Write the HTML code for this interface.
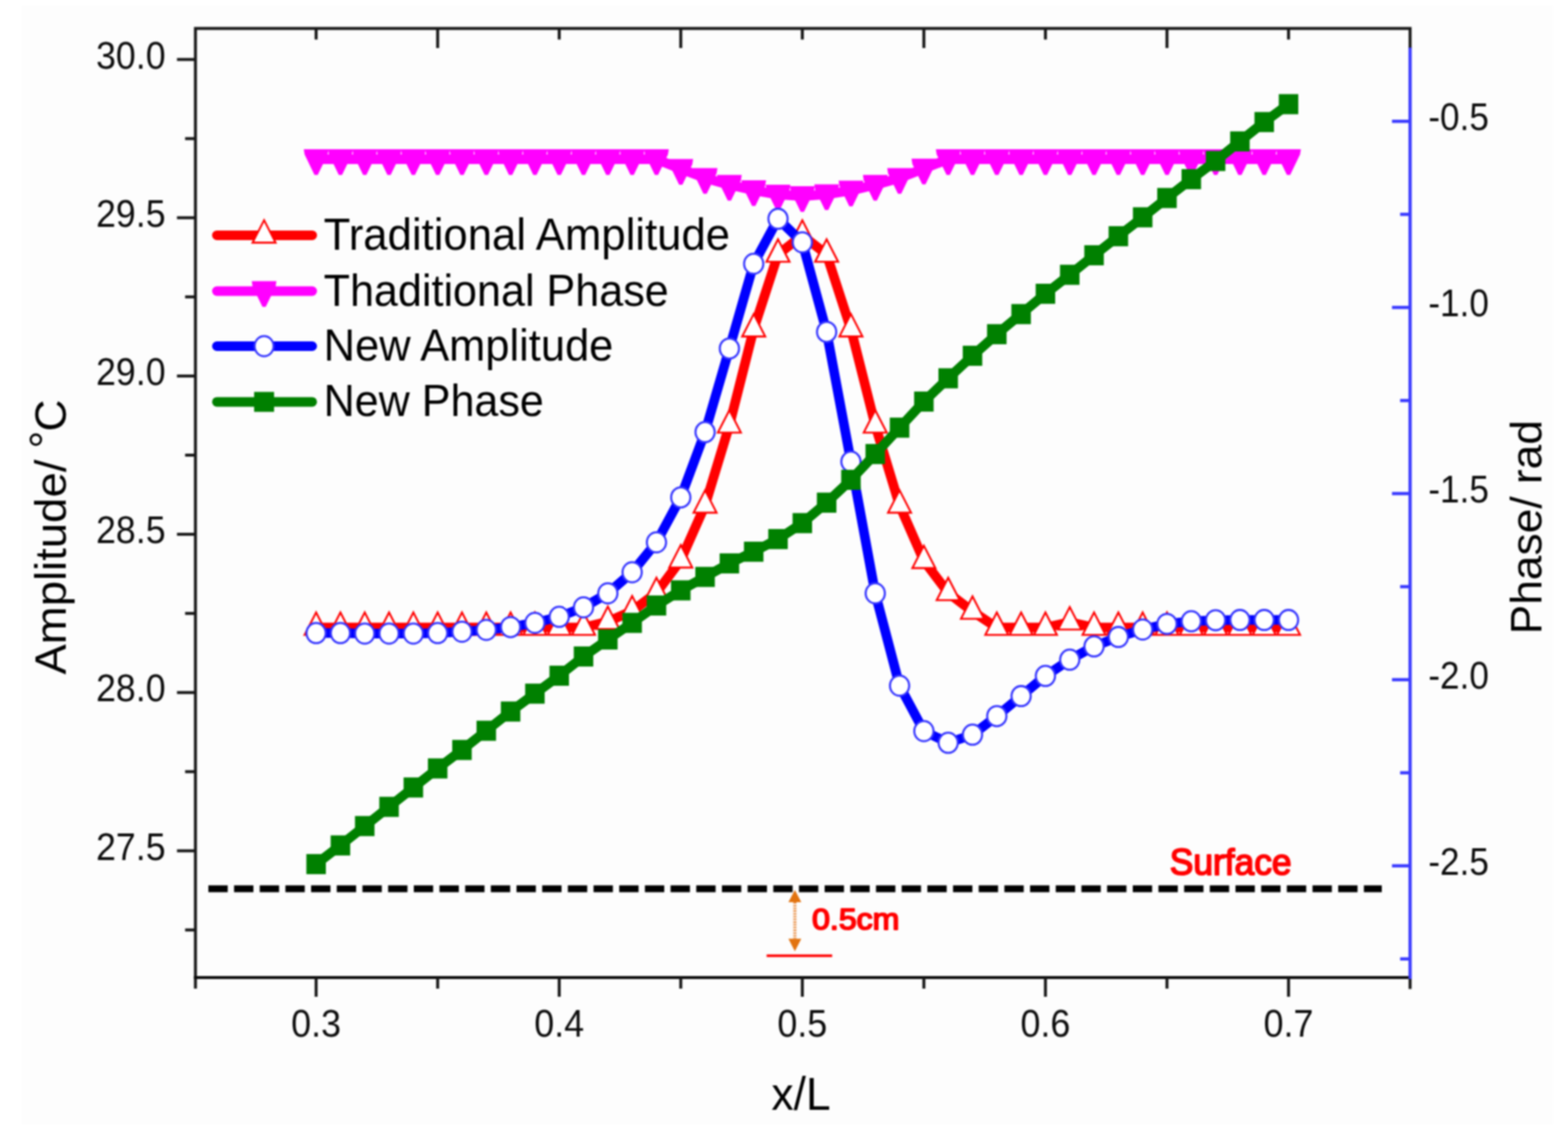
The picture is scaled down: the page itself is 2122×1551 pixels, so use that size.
<!DOCTYPE html>
<html lang="en"><head><meta charset="utf-8"><title>Amplitude and Phase vs x/L</title>
<style>
html,body{margin:0;padding:0;background:#fff;}
body{width:2122px;height:1551px;}
svg{display:block;filter:blur(0.8px);}
text{font-family:"Liberation Sans",Arial,Helvetica,sans-serif;}
.tk{font-size:51px;fill:#0c0c0c;}
.ttl{font-size:60px;fill:#000;}
.lg{font-size:61.5px;fill:#000;}
.ann{font-family:"Liberation Sans",Arial,sans-serif;font-weight:normal;fill:#ff0000;stroke:#ff0000;stroke-width:2.2px;stroke-linejoin:round;paint-order:stroke;}
</style></head><body>
<svg width="2122" height="1551" viewBox="0 0 2122 1551" role="img" aria-label="Amplitude and phase versus x/L">
<rect x="0" y="0" width="2122" height="1551" fill="#ffffff"/>
<rect x="29.5" y="7.5" width="2072.5" height="1514" fill="#fdfdfd"/>
<g id="series" fill="none" stroke-linejoin="round" stroke-linecap="butt">
<g id="trad-amp">
<polyline points="427.8,849.3 460.7,849.3 493.6,849.3 526.5,849.3 559.4,849.3 592.3,849.3 625.2,849.3 658.1,849.3 691,849.3 723.9,849.3 756.8,849.3 789.7,849.3 822.6,841.3 855.5,827 888.4,802.2 921.3,758.1 954.2,683.9 987.1,575.5 1020,445.4 1052.9,344.3 1085.8,318.5 1118.7,344.3 1151.6,445.4 1184.5,575.5 1217.4,683.9 1250.3,758.9 1283.2,802.3 1316.1,827.5 1349,849.3 1381.9,849.3 1414.8,849.3 1447.7,842 1480.6,849.3 1513.5,849.3 1546.4,849.3 1579.3,849.3 1612.2,849.3 1645.1,849.3 1678,849.3 1710.9,849.3 1743.8,849.3" stroke="#ff0000" stroke-width="13"/>
<path d="M427.8 828.9 L443.4 859.3 L412.2 859.3 Z M460.7 828.9 L476.3 859.3 L445.1 859.3 Z M493.6 828.9 L509.2 859.3 L478 859.3 Z M526.5 828.9 L542.1 859.3 L510.9 859.3 Z M559.4 828.9 L575 859.3 L543.8 859.3 Z M592.3 828.9 L607.9 859.3 L576.7 859.3 Z M625.2 828.9 L640.8 859.3 L609.6 859.3 Z M658.1 828.9 L673.7 859.3 L642.5 859.3 Z M691 828.9 L706.6 859.3 L675.4 859.3 Z M723.9 828.9 L739.5 859.3 L708.3 859.3 Z M756.8 828.9 L772.4 859.3 L741.2 859.3 Z M789.7 828.9 L805.3 859.3 L774.1 859.3 Z M822.6 820.9 L838.2 851.3 L807 851.3 Z M855.5 806.6 L871.1 837 L839.9 837 Z M888.4 781.8 L904 812.2 L872.8 812.2 Z M921.3 737.7 L936.9 768.1 L905.7 768.1 Z M954.2 663.5 L969.8 693.9 L938.6 693.9 Z M987.1 555.1 L1002.7 585.5 L971.5 585.5 Z M1020 425 L1035.6 455.4 L1004.4 455.4 Z M1052.9 323.9 L1068.5 354.3 L1037.3 354.3 Z M1085.8 298.1 L1101.4 328.5 L1070.2 328.5 Z M1118.7 323.9 L1134.3 354.3 L1103.1 354.3 Z M1151.6 425 L1167.2 455.4 L1136 455.4 Z M1184.5 555.1 L1200.1 585.5 L1168.9 585.5 Z M1217.4 663.5 L1233 693.9 L1201.8 693.9 Z M1250.3 738.5 L1265.9 768.9 L1234.7 768.9 Z M1283.2 781.9 L1298.8 812.3 L1267.6 812.3 Z M1316.1 807.1 L1331.7 837.5 L1300.5 837.5 Z M1349 828.9 L1364.6 859.3 L1333.4 859.3 Z M1381.9 828.9 L1397.5 859.3 L1366.3 859.3 Z M1414.8 828.9 L1430.4 859.3 L1399.2 859.3 Z M1447.7 821.6 L1463.3 852 L1432.1 852 Z M1480.6 828.9 L1496.2 859.3 L1465 859.3 Z M1513.5 828.9 L1529.1 859.3 L1497.9 859.3 Z M1546.4 828.9 L1562 859.3 L1530.8 859.3 Z M1579.3 828.9 L1594.9 859.3 L1563.7 859.3 Z M1612.2 828.9 L1627.8 859.3 L1596.6 859.3 Z M1645.1 828.9 L1660.7 859.3 L1629.5 859.3 Z M1678 828.9 L1693.6 859.3 L1662.4 859.3 Z M1710.9 828.9 L1726.5 859.3 L1695.3 859.3 Z M1743.8 828.9 L1759.4 859.3 L1728.2 859.3 Z" fill="#fff" stroke="#ff0000" stroke-width="2.6" stroke-linejoin="miter"/>
</g>
<g id="trad-phase">
<polyline points="427.8,215.4 460.7,215.4 493.6,215.4 526.5,215.4 559.4,215.4 592.3,215.4 625.2,215.4 658.1,215.4 691,215.4 723.9,215.4 756.8,215.4 789.7,215.4 822.6,215.4 855.5,215.4 888.4,215.4 921.3,228.7 954.2,240.9 987.1,250.2 1020,257.5 1052.9,263.3 1085.8,265.5 1118.7,263 1151.6,257.9 1184.5,250.2 1217.4,240.9 1250.3,228.2 1283.2,215.4 1316.1,215.4 1349,215.4 1381.9,215.4 1414.8,215.4 1447.7,215.4 1480.6,215.4 1513.5,215.4 1546.4,215.4 1579.3,215.4 1612.2,215.4 1645.1,215.4 1678,215.4 1710.9,215.4 1743.8,215.4" stroke="#ff00ff" stroke-width="13"/>
<path d="M411.1 202 L444.5 202 L443.4 209.1 L430 236.7 L425.6 236.7 L412.2 209.1 Z M444 202 L477.4 202 L476.3 209.1 L462.9 236.7 L458.5 236.7 L445.1 209.1 Z M476.9 202 L510.3 202 L509.2 209.1 L495.8 236.7 L491.4 236.7 L478 209.1 Z M509.8 202 L543.2 202 L542.1 209.1 L528.7 236.7 L524.3 236.7 L510.9 209.1 Z M542.7 202 L576.1 202 L575 209.1 L561.6 236.7 L557.2 236.7 L543.8 209.1 Z M575.6 202 L609 202 L607.9 209.1 L594.5 236.7 L590.1 236.7 L576.7 209.1 Z M608.5 202 L641.9 202 L640.8 209.1 L627.4 236.7 L623 236.7 L609.6 209.1 Z M641.4 202 L674.8 202 L673.7 209.1 L660.3 236.7 L655.9 236.7 L642.5 209.1 Z M674.3 202 L707.7 202 L706.6 209.1 L693.2 236.7 L688.8 236.7 L675.4 209.1 Z M707.2 202 L740.6 202 L739.5 209.1 L726.1 236.7 L721.7 236.7 L708.3 209.1 Z M740.1 202 L773.5 202 L772.4 209.1 L759 236.7 L754.6 236.7 L741.2 209.1 Z M773 202 L806.4 202 L805.3 209.1 L791.9 236.7 L787.5 236.7 L774.1 209.1 Z M805.9 202 L839.3 202 L838.2 209.1 L824.8 236.7 L820.4 236.7 L807 209.1 Z M838.8 202 L872.2 202 L871.1 209.1 L857.7 236.7 L853.3 236.7 L839.9 209.1 Z M871.7 202 L905.1 202 L904 209.1 L890.6 236.7 L886.2 236.7 L872.8 209.1 Z M904.6 215.3 L938 215.3 L936.9 222.4 L923.5 250 L919.1 250 L905.7 222.4 Z M937.5 227.5 L970.9 227.5 L969.8 234.6 L956.4 262.2 L952 262.2 L938.6 234.6 Z M970.4 236.8 L1003.8 236.8 L1002.7 243.9 L989.3 271.5 L984.9 271.5 L971.5 243.9 Z M1003.3 244.1 L1036.7 244.1 L1035.6 251.2 L1022.2 278.8 L1017.8 278.8 L1004.4 251.2 Z M1036.2 249.9 L1069.6 249.9 L1068.5 257 L1055.1 284.6 L1050.7 284.6 L1037.3 257 Z M1069.1 252.1 L1102.5 252.1 L1101.4 259.2 L1088 286.8 L1083.6 286.8 L1070.2 259.2 Z M1102 249.6 L1135.4 249.6 L1134.3 256.7 L1120.9 284.3 L1116.5 284.3 L1103.1 256.7 Z M1134.9 244.5 L1168.3 244.5 L1167.2 251.6 L1153.8 279.2 L1149.4 279.2 L1136 251.6 Z M1167.8 236.8 L1201.2 236.8 L1200.1 243.9 L1186.7 271.5 L1182.3 271.5 L1168.9 243.9 Z M1200.7 227.5 L1234.1 227.5 L1233 234.6 L1219.6 262.2 L1215.2 262.2 L1201.8 234.6 Z M1233.6 214.8 L1267 214.8 L1265.9 221.9 L1252.5 249.5 L1248.1 249.5 L1234.7 221.9 Z M1266.5 202 L1299.9 202 L1298.8 209.1 L1285.4 236.7 L1281 236.7 L1267.6 209.1 Z M1299.4 202 L1332.8 202 L1331.7 209.1 L1318.3 236.7 L1313.9 236.7 L1300.5 209.1 Z M1332.3 202 L1365.7 202 L1364.6 209.1 L1351.2 236.7 L1346.8 236.7 L1333.4 209.1 Z M1365.2 202 L1398.6 202 L1397.5 209.1 L1384.1 236.7 L1379.7 236.7 L1366.3 209.1 Z M1398.1 202 L1431.5 202 L1430.4 209.1 L1417 236.7 L1412.6 236.7 L1399.2 209.1 Z M1431 202 L1464.4 202 L1463.3 209.1 L1449.9 236.7 L1445.5 236.7 L1432.1 209.1 Z M1463.9 202 L1497.3 202 L1496.2 209.1 L1482.8 236.7 L1478.4 236.7 L1465 209.1 Z M1496.8 202 L1530.2 202 L1529.1 209.1 L1515.7 236.7 L1511.3 236.7 L1497.9 209.1 Z M1529.7 202 L1563.1 202 L1562 209.1 L1548.6 236.7 L1544.2 236.7 L1530.8 209.1 Z M1562.6 202 L1596 202 L1594.9 209.1 L1581.5 236.7 L1577.1 236.7 L1563.7 209.1 Z M1595.5 202 L1628.9 202 L1627.8 209.1 L1614.4 236.7 L1610 236.7 L1596.6 209.1 Z M1628.4 202 L1661.8 202 L1660.7 209.1 L1647.3 236.7 L1642.9 236.7 L1629.5 209.1 Z M1661.3 202 L1694.7 202 L1693.6 209.1 L1680.2 236.7 L1675.8 236.7 L1662.4 209.1 Z M1694.2 202 L1727.6 202 L1726.5 209.1 L1713.1 236.7 L1708.7 236.7 L1695.3 209.1 Z M1727.1 202 L1760.5 202 L1759.4 209.1 L1746 236.7 L1741.6 236.7 L1728.2 209.1 Z" fill="#ff00ff" stroke="none"/>
</g>
<g id="new-amp">
<polyline points="427.8,856.8 460.7,856.8 493.6,857.5 526.5,857.5 559.4,857.5 592.3,856.8 625.2,855 658.1,852.5 691,848.7 723.9,843 756.8,834.8 789.7,822 822.6,803 855.5,774.5 888.4,734 921.3,673.2 954.2,584.8 987.1,471.7 1020,357 1052.9,296.1 1085.8,328 1118.7,449.2 1151.6,624.8 1184.5,803 1217.4,928 1250.3,989.5 1283.2,1005.3 1316.1,994.3 1349,969.2 1381.9,942.1 1414.8,914.8 1447.7,892.8 1480.6,874.8 1513.5,862.1 1546.4,852 1579.3,844.4 1612.2,840.8 1645.1,839.4 1678,839.1 1710.9,839.1 1743.8,839.1" stroke="#0000ff" stroke-width="13"/>
<g fill="#fff" stroke="#3333ff" stroke-width="2.8">
<ellipse cx="427.8" cy="856.8" rx="13" ry="13.6"/>
<ellipse cx="460.7" cy="856.8" rx="13" ry="13.6"/>
<ellipse cx="493.6" cy="857.5" rx="13" ry="13.6"/>
<ellipse cx="526.5" cy="857.5" rx="13" ry="13.6"/>
<ellipse cx="559.4" cy="857.5" rx="13" ry="13.6"/>
<ellipse cx="592.3" cy="856.8" rx="13" ry="13.6"/>
<ellipse cx="625.2" cy="855" rx="13" ry="13.6"/>
<ellipse cx="658.1" cy="852.5" rx="13" ry="13.6"/>
<ellipse cx="691" cy="848.7" rx="13" ry="13.6"/>
<ellipse cx="723.9" cy="843" rx="13" ry="13.6"/>
<ellipse cx="756.8" cy="834.8" rx="13" ry="13.6"/>
<ellipse cx="789.7" cy="822" rx="13" ry="13.6"/>
<ellipse cx="822.6" cy="803" rx="13" ry="13.6"/>
<ellipse cx="855.5" cy="774.5" rx="13" ry="13.6"/>
<ellipse cx="888.4" cy="734" rx="13" ry="13.6"/>
<ellipse cx="921.3" cy="673.2" rx="13" ry="13.6"/>
<ellipse cx="954.2" cy="584.8" rx="13" ry="13.6"/>
<ellipse cx="987.1" cy="471.7" rx="13" ry="13.6"/>
<ellipse cx="1020" cy="357" rx="13" ry="13.6"/>
<ellipse cx="1052.9" cy="296.1" rx="13" ry="13.6"/>
<ellipse cx="1085.8" cy="328" rx="13" ry="13.6"/>
<ellipse cx="1118.7" cy="449.2" rx="13" ry="13.6"/>
<ellipse cx="1151.6" cy="624.8" rx="13" ry="13.6"/>
<ellipse cx="1184.5" cy="803" rx="13" ry="13.6"/>
<ellipse cx="1217.4" cy="928" rx="13" ry="13.6"/>
<ellipse cx="1250.3" cy="989.5" rx="13" ry="13.6"/>
<ellipse cx="1283.2" cy="1005.3" rx="13" ry="13.6"/>
<ellipse cx="1316.1" cy="994.3" rx="13" ry="13.6"/>
<ellipse cx="1349" cy="969.2" rx="13" ry="13.6"/>
<ellipse cx="1381.9" cy="942.1" rx="13" ry="13.6"/>
<ellipse cx="1414.8" cy="914.8" rx="13" ry="13.6"/>
<ellipse cx="1447.7" cy="892.8" rx="13" ry="13.6"/>
<ellipse cx="1480.6" cy="874.8" rx="13" ry="13.6"/>
<ellipse cx="1513.5" cy="862.1" rx="13" ry="13.6"/>
<ellipse cx="1546.4" cy="852" rx="13" ry="13.6"/>
<ellipse cx="1579.3" cy="844.4" rx="13" ry="13.6"/>
<ellipse cx="1612.2" cy="840.8" rx="13" ry="13.6"/>
<ellipse cx="1645.1" cy="839.4" rx="13" ry="13.6"/>
<ellipse cx="1678" cy="839.1" rx="13" ry="13.6"/>
<ellipse cx="1710.9" cy="839.1" rx="13" ry="13.6"/>
<ellipse cx="1743.8" cy="839.1" rx="13" ry="13.6"/>
</g></g>
<g id="new-phase">
<polyline points="427.8,1169.5 460.7,1144.2 493.6,1118 526.5,1092 559.4,1065.8 592.3,1040 625.2,1015 658.1,989 691,963 723.9,938.8 756.8,914.5 789.7,888.5 822.6,865.5 855.5,843 888.4,819.5 921.3,799 954.2,780.8 987.1,762.5 1020,746.7 1052.9,729.6 1085.8,708 1118.7,680.3 1151.6,649.4 1184.5,614.5 1217.4,578.8 1250.3,543.5 1283.2,512 1316.1,481.5 1349,452.3 1381.9,425.1 1414.8,397.6 1447.7,371.9 1480.6,345.5 1513.5,319.7 1546.4,294.1 1579.3,268 1612.2,242.5 1645.1,217.9 1678,191.4 1710.9,165.2 1743.8,141" stroke="#008000" stroke-width="13"/>
<g fill="#008000" stroke="none">
<rect x="414.6" y="1155.9" width="26.4" height="27.2"/>
<rect x="447.5" y="1130.6" width="26.4" height="27.2"/>
<rect x="480.4" y="1104.4" width="26.4" height="27.2"/>
<rect x="513.3" y="1078.4" width="26.4" height="27.2"/>
<rect x="546.2" y="1052.2" width="26.4" height="27.2"/>
<rect x="579.1" y="1026.4" width="26.4" height="27.2"/>
<rect x="612" y="1001.4" width="26.4" height="27.2"/>
<rect x="644.9" y="975.4" width="26.4" height="27.2"/>
<rect x="677.8" y="949.4" width="26.4" height="27.2"/>
<rect x="710.7" y="925.2" width="26.4" height="27.2"/>
<rect x="743.6" y="900.9" width="26.4" height="27.2"/>
<rect x="776.5" y="874.9" width="26.4" height="27.2"/>
<rect x="809.4" y="851.9" width="26.4" height="27.2"/>
<rect x="842.3" y="829.4" width="26.4" height="27.2"/>
<rect x="875.2" y="805.9" width="26.4" height="27.2"/>
<rect x="908.1" y="785.4" width="26.4" height="27.2"/>
<rect x="941" y="767.2" width="26.4" height="27.2"/>
<rect x="973.9" y="748.9" width="26.4" height="27.2"/>
<rect x="1006.8" y="733.1" width="26.4" height="27.2"/>
<rect x="1039.7" y="716" width="26.4" height="27.2"/>
<rect x="1072.6" y="694.4" width="26.4" height="27.2"/>
<rect x="1105.5" y="666.7" width="26.4" height="27.2"/>
<rect x="1138.4" y="635.8" width="26.4" height="27.2"/>
<rect x="1171.3" y="600.9" width="26.4" height="27.2"/>
<rect x="1204.2" y="565.2" width="26.4" height="27.2"/>
<rect x="1237.1" y="529.9" width="26.4" height="27.2"/>
<rect x="1270" y="498.4" width="26.4" height="27.2"/>
<rect x="1302.9" y="467.9" width="26.4" height="27.2"/>
<rect x="1335.8" y="438.7" width="26.4" height="27.2"/>
<rect x="1368.7" y="411.5" width="26.4" height="27.2"/>
<rect x="1401.6" y="384" width="26.4" height="27.2"/>
<rect x="1434.5" y="358.3" width="26.4" height="27.2"/>
<rect x="1467.4" y="331.9" width="26.4" height="27.2"/>
<rect x="1500.3" y="306.1" width="26.4" height="27.2"/>
<rect x="1533.2" y="280.5" width="26.4" height="27.2"/>
<rect x="1566.1" y="254.4" width="26.4" height="27.2"/>
<rect x="1599" y="228.9" width="26.4" height="27.2"/>
<rect x="1631.9" y="204.3" width="26.4" height="27.2"/>
<rect x="1664.8" y="177.8" width="26.4" height="27.2"/>
<rect x="1697.7" y="151.6" width="26.4" height="27.2"/>
<rect x="1730.6" y="127.4" width="26.4" height="27.2"/>
</g></g>
</g>
<line x1="282" y1="1202.9" x2="1870" y2="1202.9" stroke="#000" stroke-width="9.4" stroke-dasharray="26.2 8.55"/>
<line x1="1037.5" y1="1293.5" x2="1126.2" y2="1293.5" stroke="#ff0000" stroke-width="3.5"/>
<g fill="#e2730f" stroke="none">
<path d="M1075.7 1204.5 L1084.4 1221 L1067 1221 Z"/>
<path d="M1075.7 1287.5 L1084.4 1270.6 L1067 1270.6 Z"/>
</g>
<line x1="1075.7" y1="1221" x2="1075.7" y2="1270.6" stroke="#e9893a" stroke-width="4.4" stroke-dasharray="2 1.7"/>
<text class="ann" x="1583" y="1184.3" font-size="49.5" textLength="165" lengthAdjust="spacingAndGlyphs">Surface</text>
<text class="ann" x="1099" y="1258.3" font-size="40.5" textLength="118" lengthAdjust="spacingAndGlyphs">0.5cm</text>
<g id="axes" fill="none" stroke-linecap="butt">
<g stroke="#3a3aff" stroke-width="4.4">
<line x1="1908.3" y1="64" x2="1908.3" y2="1325"/>
<line x1="1883.8" y1="164.2" x2="1908.3" y2="164.2"/>
<line x1="1894.8" y1="290.1" x2="1908.3" y2="290.1"/>
<line x1="1883.8" y1="416.1" x2="1908.3" y2="416.1"/>
<line x1="1894.8" y1="542.1" x2="1908.3" y2="542.1"/>
<line x1="1883.8" y1="668" x2="1908.3" y2="668"/>
<line x1="1894.8" y1="794" x2="1908.3" y2="794"/>
<line x1="1883.8" y1="919.9" x2="1908.3" y2="919.9"/>
<line x1="1894.8" y1="1045.9" x2="1908.3" y2="1045.9"/>
<line x1="1883.8" y1="1171.8" x2="1908.3" y2="1171.8"/>
<line x1="1894.8" y1="1297.8" x2="1908.3" y2="1297.8"/>
</g>
<g stroke="#161616" stroke-width="4">
<path d="M264.5 1338 L264.5 38.5 L1908.3 38.5 L1908.3 64.5"/>
<line x1="262.5" y1="1323" x2="1906.3" y2="1323" stroke="#0a0a0a"/>
<line x1="1908.3" y1="1325" x2="1908.3" y2="1338.5"/>
<line x1="427.8" y1="1323" x2="427.8" y2="1349"/>
<line x1="427.8" y1="38.5" x2="427.8" y2="53.5"/>
<line x1="592.3" y1="1323" x2="592.3" y2="1338"/>
<line x1="592.3" y1="38.5" x2="592.3" y2="65"/>
<line x1="756.8" y1="1323" x2="756.8" y2="1349"/>
<line x1="756.8" y1="38.5" x2="756.8" y2="53.5"/>
<line x1="921.3" y1="1323" x2="921.3" y2="1338"/>
<line x1="921.3" y1="38.5" x2="921.3" y2="65"/>
<line x1="1085.8" y1="1323" x2="1085.8" y2="1349"/>
<line x1="1085.8" y1="38.5" x2="1085.8" y2="53.5"/>
<line x1="1250.3" y1="1323" x2="1250.3" y2="1338"/>
<line x1="1250.3" y1="38.5" x2="1250.3" y2="65"/>
<line x1="1414.8" y1="1323" x2="1414.8" y2="1349"/>
<line x1="1414.8" y1="38.5" x2="1414.8" y2="53.5"/>
<line x1="1579.3" y1="1323" x2="1579.3" y2="1338"/>
<line x1="1579.3" y1="38.5" x2="1579.3" y2="65"/>
<line x1="1743.8" y1="1323" x2="1743.8" y2="1349"/>
<line x1="1743.8" y1="38.5" x2="1743.8" y2="53.5"/>
<line x1="239.5" y1="80.5" x2="264.5" y2="80.5"/>
<line x1="250.5" y1="187.6" x2="264.5" y2="187.6"/>
<line x1="239.5" y1="294.7" x2="264.5" y2="294.7"/>
<line x1="250.5" y1="401.8" x2="264.5" y2="401.8"/>
<line x1="239.5" y1="508.9" x2="264.5" y2="508.9"/>
<line x1="250.5" y1="616" x2="264.5" y2="616"/>
<line x1="239.5" y1="723.1" x2="264.5" y2="723.1"/>
<line x1="250.5" y1="830.2" x2="264.5" y2="830.2"/>
<line x1="239.5" y1="937.3" x2="264.5" y2="937.3"/>
<line x1="250.5" y1="1044.4" x2="264.5" y2="1044.4"/>
<line x1="239.5" y1="1151.5" x2="264.5" y2="1151.5"/>
<line x1="250.5" y1="1258.6" x2="264.5" y2="1258.6"/>
</g></g>
<g class="tk">
<text x="224" y="92.5" text-anchor="end" textLength="94" lengthAdjust="spacingAndGlyphs">30.0</text>
<text x="224" y="306.7" text-anchor="end" textLength="94" lengthAdjust="spacingAndGlyphs">29.5</text>
<text x="224" y="520.9" text-anchor="end" textLength="94" lengthAdjust="spacingAndGlyphs">29.0</text>
<text x="224" y="735.1" text-anchor="end" textLength="94" lengthAdjust="spacingAndGlyphs">28.5</text>
<text x="224" y="949.3" text-anchor="end" textLength="94" lengthAdjust="spacingAndGlyphs">28.0</text>
<text x="224" y="1163.5" text-anchor="end" textLength="94" lengthAdjust="spacingAndGlyphs">27.5</text>
<text x="1933" y="176.2" textLength="82" lengthAdjust="spacingAndGlyphs">-0.5</text>
<text x="1933" y="428.1" textLength="82" lengthAdjust="spacingAndGlyphs">-1.0</text>
<text x="1933" y="680" textLength="82" lengthAdjust="spacingAndGlyphs">-1.5</text>
<text x="1933" y="931.9" textLength="82" lengthAdjust="spacingAndGlyphs">-2.0</text>
<text x="1933" y="1183.8" textLength="82" lengthAdjust="spacingAndGlyphs">-2.5</text>
<text x="427.8" y="1403" text-anchor="middle" textLength="67.5" lengthAdjust="spacingAndGlyphs">0.3</text>
<text x="756.8" y="1403" text-anchor="middle" textLength="67.5" lengthAdjust="spacingAndGlyphs">0.4</text>
<text x="1085.8" y="1403" text-anchor="middle" textLength="67.5" lengthAdjust="spacingAndGlyphs">0.5</text>
<text x="1414.8" y="1403" text-anchor="middle" textLength="67.5" lengthAdjust="spacingAndGlyphs">0.6</text>
<text x="1743.8" y="1403" text-anchor="middle" textLength="67.5" lengthAdjust="spacingAndGlyphs">0.7</text>
</g>
<text class="ttl" transform="translate(89,913) rotate(-90)"><tspan textLength="291" lengthAdjust="spacingAndGlyphs">Amplitude/</tspan><tspan x="289.3" dy="-7"> °</tspan><tspan x="329" dy="7">C</tspan></text>
<text class="ttl" transform="translate(2086,713.5) rotate(-90)" text-anchor="middle" textLength="290" lengthAdjust="spacingAndGlyphs">Phase/ rad</text>
<text class="ttl" x="1084" y="1501.7" text-anchor="middle" textLength="80" lengthAdjust="spacingAndGlyphs" style="font-size:63.5px">x/L</text>
<g id="legend">
<line x1="293.5" y1="318.4" x2="422.5" y2="318.4" stroke="#ff0000" stroke-width="13" stroke-linecap="round"/>
<line x1="293.5" y1="394" x2="422.5" y2="394" stroke="#ff00ff" stroke-width="13" stroke-linecap="round"/>
<line x1="293.5" y1="468.5" x2="422.5" y2="468.5" stroke="#0000ff" stroke-width="13" stroke-linecap="round"/>
<line x1="293.5" y1="543.9" x2="422.5" y2="543.9" stroke="#008000" stroke-width="13" stroke-linecap="round"/>
<path d="M357.4 298 L373 328.4 L341.8 328.4 Z" fill="#fff" stroke="#ff0000" stroke-width="2.6"/>
<path d="M340.7 380.6 L374.1 380.6 L373 387.7 L359.6 415.3 L355.2 415.3 L341.8 387.7 Z" fill="#ff00ff" stroke="none"/>
<ellipse cx="357.4" cy="468.5" rx="12.8" ry="13.6" fill="#fff" stroke="#3333ff" stroke-width="2.8"/>
<rect x="343.9" y="530.4" width="27" height="27" fill="#008000"/>
<text class="lg" x="438" y="337.9" textLength="550" lengthAdjust="spacingAndGlyphs">Traditional Amplitude</text>
<text class="lg" x="438" y="413.5" textLength="467" lengthAdjust="spacingAndGlyphs">Thaditional Phase</text>
<text class="lg" x="438" y="488" textLength="392" lengthAdjust="spacingAndGlyphs">New Amplitude</text>
<text class="lg" x="438" y="563.4" textLength="298" lengthAdjust="spacingAndGlyphs">New Phase</text>
</g>
</svg></body></html>
